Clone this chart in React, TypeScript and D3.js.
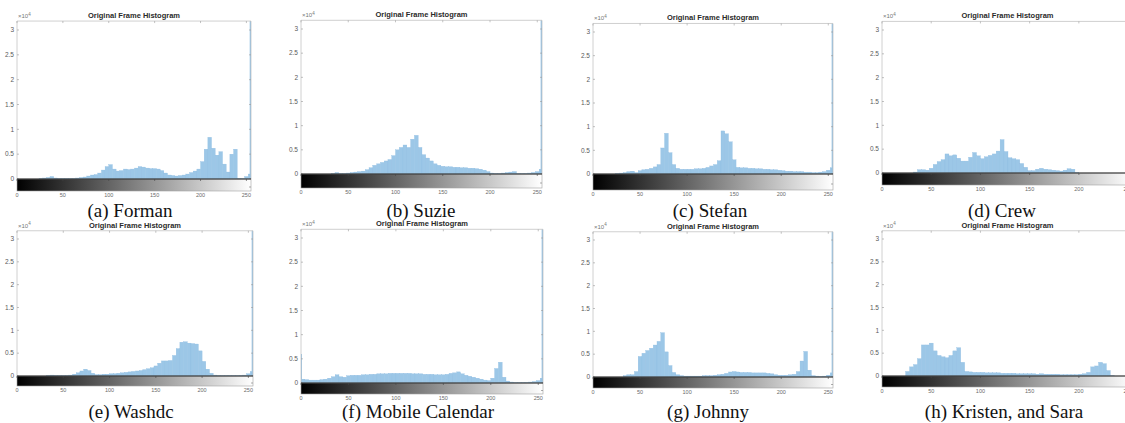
import React from "react";
import * as d3 from "d3";

// histogram counts (x10^4), one value per 4 grey levels (0-3, 4-7, ... 252-255)
const forman = [
  0, 0, 0, 0, 0, 0, 0.01, 0.02, 0.03, 0.05, 0.02, 0.01, 0.01, 0.01, 0.01, 0.01,
  0.02, 0.03, 0.04, 0.06, 0.08, 0.09, 0.12, 0.18, 0.25, 0.29, 0.2, 0.16, 0.17, 0.2, 0.19, 0.2,
  0.22, 0.25, 0.24, 0.22, 0.21, 0.21, 0.2, 0.17, 0.12, 0.08, 0.07, 0.06, 0.07, 0.08, 0.1, 0.13,
  0.16, 0.2, 0.35, 0.6, 0.84, 0.62, 0.48, 0.55, 0.3, 0.14, 0.5, 0.6, 0.01, 0.01, 0.05, 0.1,
];
const suzie = [
  0, 0, 0, 0, 0, 0, 0, 0, 0.01, 0.03, 0.01, 0.01, 0.02, 0.03, 0.04, 0.05,
  0.06, 0.09, 0.13, 0.18, 0.21, 0.24, 0.27, 0.3, 0.38, 0.5, 0.55, 0.6, 0.55, 0.72, 0.8, 0.55,
  0.4, 0.33, 0.27, 0.21, 0.18, 0.16, 0.15, 0.15, 0.14, 0.14, 0.13, 0.13, 0.12, 0.12, 0.11, 0.1,
  0.08, 0.05, 0.02, 0.01, 0.01, 0.02, 0.03, 0.04, 0.05, 0.01, 0.01, 0.01, 0.02, 0.03, 0.05, 0.1,
];
const stefan = [
  0, 0, 0, 0, 0, 0, 0.01, 0.02, 0.03, 0.05, 0.06, 0.03, 0.07, 0.09, 0.1, 0.12,
  0.15, 0.2, 0.55, 0.86, 0.45, 0.2, 0.12, 0.1, 0.1, 0.1, 0.1, 0.11, 0.11, 0.12, 0.14, 0.17,
  0.2, 0.28, 0.91, 0.85, 0.68, 0.3, 0.14, 0.13, 0.13, 0.12, 0.12, 0.11, 0.11, 0.1, 0.1, 0.09,
  0.09, 0.08, 0.07, 0.06, 0.06, 0.05, 0.05, 0.05, 0.04, 0.04, 0.03, 0.03, 0.04, 0.05, 0.08, 0.13,
];
const crew = [
  0, 0, 0, 0, 0, 0, 0, 0, 0.02, 0.07, 0.07, 0.06, 0.1, 0.18, 0.24, 0.28,
  0.4, 0.36, 0.38, 0.31, 0.25, 0.25, 0.33, 0.43, 0.36, 0.3, 0.34, 0.37, 0.4, 0.46, 0.7, 0.45,
  0.32, 0.3, 0.28, 0.2, 0.12, 0.05, 0.05, 0.08, 0.1, 0.08, 0.07, 0.06, 0.05, 0.04, 0.06, 0.09,
  0.08, 0.01, 0, 0, 0, 0, 0, 0, 0, 0, 0, 0, 0, 0, 0, 0,
];
const washdc = [
  0, 0, 0, 0, 0, 0, 0, 0, 0.01, 0.02, 0.01, 0.01, 0.01, 0.01, 0.02, 0.04,
  0.07, 0.11, 0.15, 0.12, 0.06, 0.03, 0.03, 0.04, 0.04, 0.05, 0.05, 0.06, 0.07, 0.08, 0.09, 0.1,
  0.11, 0.12, 0.14, 0.16, 0.18, 0.22, 0.28, 0.33, 0.33, 0.34, 0.45, 0.6, 0.74, 0.75, 0.72, 0.71,
  0.7, 0.55, 0.32, 0.15, 0.06, 0.02, 0.01, 0.01, 0.01, 0.01, 0.01, 0.01, 0.01, 0.02, 0.05, 0.1,
];
const mobile = [
  0.08, 0.07, 0.06, 0.06, 0.06, 0.07, 0.08, 0.1, 0.13, 0.17, 0.13, 0.12, 0.15, 0.16, 0.16, 0.16,
  0.17, 0.17, 0.18, 0.18, 0.19, 0.19, 0.19, 0.2, 0.2, 0.2, 0.2, 0.2, 0.2, 0.19, 0.19, 0.19,
  0.18, 0.18, 0.18, 0.17, 0.17, 0.17, 0.18, 0.2, 0.21, 0.23, 0.19, 0.16, 0.14, 0.12, 0.1, 0.08,
  0.06, 0.05, 0.1, 0.3, 0.43, 0.12, 0.04, 0.02, 0.01, 0.01, 0.01, 0.01, 0.02, 0.03, 0.05, 0.1,
];
const johnny = [
  0, 0, 0, 0, 0, 0, 0, 0, 0.03, 0.05, 0.05, 0.12, 0.45, 0.52, 0.58, 0.63,
  0.7, 0.78, 0.97, 0.55, 0.25, 0.1, 0.05, 0.03, 0.02, 0.02, 0.02, 0.02, 0.02, 0.03, 0.03, 0.03,
  0.04, 0.05, 0.06, 0.08, 0.11, 0.12, 0.11, 0.1, 0.1, 0.1, 0.09, 0.09, 0.09, 0.09, 0.08, 0.07,
  0.05, 0.04, 0.04, 0.04, 0.05, 0.06, 0.12, 0.35, 0.56, 0.15, 0.03, 0.02, 0.01, 0.02, 0.04, 0.09,
];
const kristenSara = [
  0, 0, 0, 0, 0, 0, 0.1, 0.2, 0.25, 0.38, 0.68, 0.68, 0.72, 0.55, 0.45, 0.42,
  0.4, 0.45, 0.55, 0.62, 0.3, 0.1, 0.09, 0.08, 0.08, 0.08, 0.07, 0.07, 0.07, 0.07, 0.06, 0.06,
  0.06, 0.06, 0.05, 0.05, 0.05, 0.05, 0.05, 0.04, 0.05, 0.04, 0.04, 0.04, 0.04, 0.03, 0.03, 0.03,
  0.03, 0.03, 0.04, 0.05, 0.08, 0.2, 0.22, 0.3, 0.27, 0.12, 0.01, 0, 0, 0, 0, 0,
];

const series = [forman, suzie, stefan, crew, washdc, mobile, johnny, kristenSara];
const captions = [
  "(a) Forman",
  "(b) Suzie",
  "(c) Stefan",
  "(d) Crew",
  "(e) Washdc",
  "(f) Mobile Calendar",
  "(g) Johnny",
  "(h) Kristen, and Sara",
];
// counts at grey level 0 and 255 (tall ones run past the top of the axes)
const levelZero = [0, 0, 0, 0, 0, 0.6, 0, 0];
const levelMax = [3.5, 3.5, 3.5, 0, 3.5, 3.5, 3.5, 0];

const xTicks = [0, 50, 100, 150, 200, 250];
const yTicks = [0, 0.5, 1, 1.5, 2, 2.5, 3];
const binWidth = 4;
const yMax = 3.18;

// layout of each panel on the page
const panelLeft = [17, 301, 593, 882, 17, 301, 593, 882];
const panelRight = [251, 542, 833, 1133, 253, 543, 833, 1133];
const zeroY = [179, 174, 174, 173, 376, 383, 377, 376];
const threeY = [30, 29, 32, 30, 239, 238, 240, 239];
const barBottom = [191, 188, 190, 185, 386, 394, 388, 387];
const captionX = [130, 421, 710, 1002, 131, 418, 708, 1004];
const captionY = [217, 217, 217, 217, 418, 418, 418, 418];

const sans = "'Liberation Sans', Arial, sans-serif";
const serif = "'Liberation Serif', 'Times New Roman', serif";
const barFill = "#9cc7e7";
const barStroke = "#8bbbe0";
const boxColor = "#c4c4c4";
const labelColor = "#5a5a5a";

const Panel = ({ i }: { i: number }) => {
  const left = panelLeft[i];
  const right = panelRight[i];
  const x = d3.scaleLinear().domain([0, 255]).range([left, right]);
  const y = d3.scaleLinear().domain([0, 3]).range([zeroY[i], threeY[i]]);
  const top = y(yMax);
  const zero = y(0);
  const bottom = barBottom[i];
  const clipId = `clip-${i}`;
  const data = series[i];

  return (
    <g>
      <defs>
        <clipPath id={clipId}>
          <rect x={left} y={top} width={right - left} height={zero - top} />
        </clipPath>
      </defs>
      <text
        x={(left + right) / 2}
        y={top - 3}
        textAnchor="middle"
        fontFamily={sans}
        fontWeight="bold"
        fontSize={7.5}
        fill="#2a2a2a"
      >
        Original Frame Histogram
      </text>
      <text x={left + 1} y={top - 3} fontFamily={sans} fontSize={6} fill="#777">
        ×10
        <tspan dy={-2.5} fontSize={4.5}>
          4
        </tspan>
      </text>

      <g clipPath={`url(#${clipId})`}>
        {data.map((v, k) =>
          v > 0 ? (
            <rect
              key={k}
              x={x(k * binWidth)}
              y={y(v)}
              width={x(Math.min(k * binWidth + binWidth, 255)) - x(k * binWidth)}
              height={zero - y(v)}
              fill={barFill}
              stroke={barStroke}
              strokeWidth={0.3}
            />
          ) : null
        )}
        {levelZero[i] > 0 && (
          <rect x={x(0)} y={y(levelZero[i])} width={x(1) - x(0)} height={zero - y(levelZero[i])} fill="#8fbfe3" />
        )}
        {levelMax[i] > 0 && (
          <rect
            x={x(253.6)}
            y={y(levelMax[i])}
            width={x(255) - x(253.6)}
            height={zero - y(levelMax[i])}
            fill="#8fbfe3"
          />
        )}
      </g>

      {/* axes box */}
      <line x1={left} x2={left} y1={top} y2={zero} stroke={boxColor} strokeWidth={0.8} />
      <line x1={right} x2={right} y1={top} y2={zero} stroke={boxColor} strokeWidth={0.8} />
      <line x1={left} x2={right} y1={top} y2={top} stroke={boxColor} strokeWidth={0.8} />
      {yTicks.map((t) => (
        <g key={t}>
          <line x1={left} x2={left + 2} y1={y(t)} y2={y(t)} stroke="#999" strokeWidth={0.6} />
          <line x1={right} x2={right - 2} y1={y(t)} y2={y(t)} stroke="#999" strokeWidth={0.6} />
          <text x={left - 3} y={y(t)} dy="0.35em" textAnchor="end" fontFamily={sans} fontSize={6.5} fill={labelColor}>
            {t}
          </text>
        </g>
      ))}
      {xTicks.map((t) => (
        <line key={t} x1={x(t)} x2={x(t)} y1={top} y2={top + 2} stroke="#999" strokeWidth={0.6} />
      ))}

      {/* grey level bar */}
      <rect
        x={left}
        y={zero}
        width={right - left}
        height={bottom - zero}
        fill="url(#greyRamp)"
        stroke="#a0a0a0"
        strokeWidth={0.6}
      />
      <line x1={left} x2={right} y1={zero} y2={zero} stroke="#262626" strokeWidth={1} />
      {xTicks.map((t) => (
        <g key={t}>
          <line x1={x(t)} x2={x(t)} y1={zero} y2={zero + 2} stroke="#444" strokeWidth={0.6} />
          <text x={x(t)} y={bottom + 6} textAnchor="middle" fontFamily={sans} fontSize={5.5} fill="#6a6a6a">
            {t}
          </text>
        </g>
      ))}
      <line
        x1={right}
        x2={right - 2}
        y1={(zero + bottom) / 2 + 2}
        y2={(zero + bottom) / 2 + 2}
        stroke="#777"
        strokeWidth={0.6}
      />

      <text x={captionX[i]} y={captionY[i]} textAnchor="middle" fontFamily={serif} fontSize={19} fill="#111">
        {captions[i]}
      </text>
    </g>
  );
};

export default function App() {
  return (
    <svg width={1125} height={423} style={{ position: "absolute", left: 0, top: 0, background: "#fff" }}>
      <defs>
        <linearGradient id="greyRamp" x1="0" x2="1" y1="0" y2="0">
          <stop offset="0" stopColor="#000" />
          <stop offset="1" stopColor="#fff" />
        </linearGradient>
      </defs>
      <rect width={1125} height={423} fill="#fff" />
      {series.map((_, i) => (
        <Panel key={i} i={i} />
      ))}
    </svg>
  );
}
